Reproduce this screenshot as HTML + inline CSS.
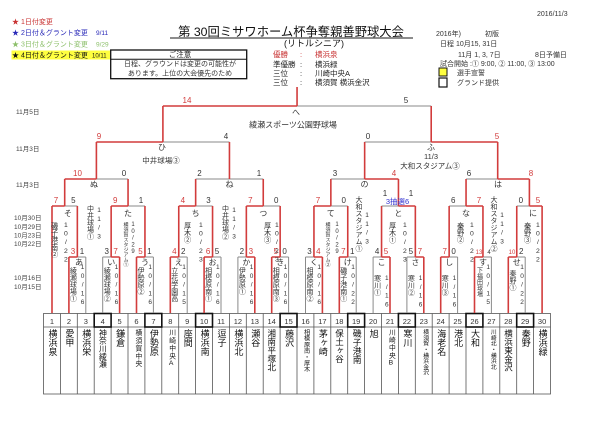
<!DOCTYPE html>
<html><head><meta charset="utf-8">
<style>
html,body{margin:0;padding:0;background:#fff}
#w{position:relative;width:600px;height:424px;overflow:hidden;font-family:"Liberation Sans","Noto Sans CJK JP",sans-serif}
svg{position:absolute;left:0;top:0}
svg text{font-family:"Liberation Sans","Noto Sans CJK JP",sans-serif}
.v{position:absolute;writing-mode:vertical-rl;text-orientation:upright;line-height:1;white-space:nowrap;color:#222}
.t{font-size:9px;top:329px;color:#111}
.s{font-size:6.2px;top:329px;color:#111}
.vn{font-size:7px;top:267px;color:#333}
.dt{font-size:6.5px;top:264px;letter-spacing:1.8px;color:#333}
.vn2{font-size:7.2px;top:222px;color:#333}
.dt2{font-size:6.8px;top:222px;letter-spacing:1.6px;color:#333}
</style></head><body><div id="w">
<svg width="600" height="424" viewBox="0 0 600 424">
<text x="537" y="16" font-size="7" fill="#333">2016/11/3</text>
<text x="12" y="24" font-size="7" fill="#c83232">★ 1日付変更</text>
<text x="12" y="35" font-size="7" fill="#2a2ab8">★ 2日付＆グラント変更</text><text x="96" y="35" font-size="6.5" fill="#2a2ab8">9/11</text>
<text x="12" y="46.5" font-size="7" fill="#8cbf6a">★ 3日付＆グラント変更</text><text x="96" y="46.5" font-size="6.5" fill="#8cbf6a">9/29</text>
<rect x="11.5" y="50.5" width="98.5" height="9" fill="#ffff40"/>
<text x="12" y="57.5" font-size="7" fill="#111">★ 4日付＆グラント変更</text><text x="92" y="57.5" font-size="6" fill="#111">10/11</text>
<text x="291" y="36" font-size="12.3" fill="#111" text-anchor="middle">第 30回ミサワホーム杯争奪親善野球大会</text>
<line x1="170" y1="38" x2="413" y2="38" stroke="#666" stroke-width="1.5"/>
<text x="314" y="46.5" font-size="9" fill="#111" text-anchor="middle">(リトルシニア)</text>
<rect x="110.7" y="50" width="136" height="28.7" fill="none" stroke="#111" stroke-width="1.3"/>
<line x1="110.7" y1="59.3" x2="246.7" y2="59.3" stroke="#111" stroke-width="1"/>
<text x="180" y="57" font-size="7.5" fill="#222" text-anchor="middle">ご注意</text>
<text x="180" y="66" font-size="7" fill="#333" text-anchor="middle">日程、グラウンドは変更の可能性が</text>
<text x="180" y="75.5" font-size="7" fill="#333" text-anchor="middle">あります。上位の大会優先のため</text>
<g font-size="7.5">
<text x="273" y="57" fill="#c83232">優勝</text><text x="300" y="57" fill="#c83232">:</text><text x="315" y="57" fill="#c83232">横浜泉</text>
<text x="273" y="67" fill="#222">準優勝</text><text x="300" y="67" fill="#222">:</text><text x="315" y="67" fill="#222">横浜緑</text>
<text x="273" y="76" fill="#222">三位</text><text x="300" y="76" fill="#222">:</text><text x="315" y="76" fill="#222">川崎中央A</text>
<text x="273" y="85" fill="#222">三位</text><text x="300" y="85" fill="#222">:</text><text x="315" y="85" fill="#222">横須賀 横浜金沢</text>
</g>
<g font-size="7" fill="#333">
<text x="436" y="36">2016年)</text><text x="485" y="36">初版</text>
<text x="440" y="46">日程 10月15, 31日</text>
<text x="458" y="57">11月 1, 3, 7日</text><text x="535" y="57">8日予備日</text>
<text x="440" y="66">試合開始 :① 9:00, ② 11:00, ③ 13:00</text>
<text x="457" y="75">選手宣誓</text>
<text x="457" y="85">グランド提供</text>
</g>
<rect x="439" y="68" width="8" height="8" fill="#ffff40" stroke="#111" stroke-width="1"/>
<rect x="439" y="78" width="8" height="9" fill="#fff" stroke="#111" stroke-width="1.2"/>
<g font-size="6.5" fill="#444">
<text x="16" y="114">11月5日</text>
<text x="16" y="151">11月3日</text>
<text x="16" y="187">11月3日</text>
<text x="14" y="220">10月30日</text>
<text x="14" y="229">10月29日</text>
<text x="14" y="237.5">10月23日</text>
<text x="14" y="246">10月22日</text>
<text x="14" y="280">10月16日</text>
<text x="14" y="289">10月15日</text>
</g>
<g stroke="#555" stroke-width="0.8" fill="none">
<rect x="43.5" y="313.5" width="507" height="80.5"/>
<line x1="43.5" y1="327" x2="550.5" y2="327"/>
<path d="M60.4 313.5V394M77.3 313.5V394M94.2 313.5V394M111.1 313.5V394M128 313.5V394M144.9 313.5V394M161.8 313.5V394M178.7 313.5V394M195.6 313.5V394M212.5 313.5V394M229.4 313.5V394M246.3 313.5V394M263.2 313.5V394M280.1 313.5V394M297 313.5V394M313.9 313.5V394M330.8 313.5V394M347.7 313.5V394M364.6 313.5V394M381.5 313.5V394M398.4 313.5V394M415.3 313.5V394M432.2 313.5V394M449.1 313.5V394M466 313.5V394M482.9 313.5V394M499.8 313.5V394M516.7 313.5V394M533.6 313.5V394"/>
</g>
<g stroke="#111" stroke-width="1.6" fill="none">
<rect x="94.2" y="313.5" width="16.9" height="13.5"/><rect x="144.9" y="313.5" width="16.9" height="13.5"/>
<rect x="195.6" y="313.5" width="16.9" height="13.5"/><rect x="280.1" y="313.5" width="16.9" height="13.5"/>
<rect x="347.7" y="313.5" width="16.9" height="13.5"/><rect x="398.4" y="313.5" width="16.9" height="13.5"/>
<rect x="466" y="313.5" width="16.9" height="13.5"/><rect x="516.7" y="313.5" width="16.9" height="13.5"/>
</g>
<g font-size="7.5" fill="#333" text-anchor="middle">
<text x="52" y="324">1</text><text x="68.9" y="324">2</text><text x="85.8" y="324">3</text><text x="102.7" y="324">4</text><text x="119.6" y="324">5</text><text x="136.5" y="324">6</text><text x="153.4" y="324">7</text><text x="170.3" y="324">8</text><text x="187.2" y="324">9</text><text x="204.1" y="324">10</text><text x="221" y="324">11</text><text x="237.9" y="324">12</text><text x="254.8" y="324">13</text><text x="271.7" y="324">14</text><text x="288.6" y="324">15</text><text x="305.5" y="324">16</text><text x="322.4" y="324">17</text><text x="339.3" y="324">18</text><text x="356.2" y="324">19</text><text x="373.1" y="324">20</text><text x="390" y="324">21</text><text x="406.9" y="324">22</text><text x="423.8" y="324">23</text><text x="440.7" y="324">24</text><text x="457.6" y="324">25</text><text x="474.5" y="324">26</text><text x="491.4" y="324">27</text><text x="508.3" y="324">28</text><text x="525.2" y="324">29</text><text x="542.1" y="324">30</text>
</g>
<g stroke="#8a8a8a" stroke-width="1" fill="none">
<path d="M85.8 313V257M102.7 313V257M153.4 313V257M187.2 313V257M221 313V257M237.9 313V257M288.6 313V257M305.5 313V257M356.2 313V257M373.1 313V257M406.9 313V257M457.6 313V257M491.4 313V257M525.2 313V257"/>
<path d="M77.35 257H85.8M102.7 257H111.15M144.95 257H153.4M178.75 257H187.2M212.55 257H221M237.9 257H246.35M280.15 257H288.6M305.5 257H313.95M347.75 257H356.2M373.1 257H381.55M406.9 257H415.35M449.15 257H457.6M482.95 257H491.4M516.75 257H525.2"/>
<path d="M64.7 206H77.35M128.05 206H144.95M195.65 206H212.55M263.25 206H280.15M330.85 206H347.75M381.55 206H398.45M449.15 206H466.05M516.75 206H529.4"/>
<path d="M96.4 179H128.05M195.65 179H263.25M330.85 179H364.65M466.05 179H497.7"/>
<path d="M162.9 142H229.45M364.65 142H431.2"/>
<path d="M297.05 106H431.2"/>
</g>
<g stroke="#d23c3c" stroke-width="1.6" fill="none">
<path d="M52 313V206M542.1 313V206"/>
<path d="M68.9 313V257M119.6 313V257M136.5 313V257M170.3 313V257M204.1 313V257M254.8 313V257M271.7 313V257M322.4 313V257M339.3 313V257M390 313V257M423.8 313V257M440.7 313V257M474.5 313V257M508.3 313V257"/>
<path d="M68.9 257H77.35M111.15 257H119.6M136.5 257H144.95M170.3 257H178.75M204.1 257H212.55M246.35 257H254.8M271.7 257H280.15M313.95 257H322.4M339.3 257H347.75M381.55 257H390M415.35 257H423.8M440.7 257H449.15M474.5 257H482.95M508.3 257H516.75"/>
<path d="M77.35 257V206M111.15 257V206M144.95 257V206M178.75 257V206M212.55 257V206M246.35 257V206M280.15 257V206M313.95 257V206M347.75 257V206M381.55 257V206M415.35 257V206M449.15 257V206M482.95 257V206M516.75 257V206"/>
<path d="M52 206H64.7M111.15 206H128.05M178.75 206H195.65M246.35 206H263.25M313.95 206H330.85M398.45 206H415.35M466.05 206H482.95M529.4 206H542.1"/>
<path d="M64.7 206V179M128.05 206V179M195.65 206V179M263.25 206V179M330.85 206V179M398.45 206V179M466.05 206V179M529.4 206V179"/>
<path d="M64.7 179H96.4M364.65 179H398.45M497.7 179H529.4"/>
<path d="M96.4 179V142M229.45 179V142M364.65 179V142M497.7 179V142"/>
<path d="M96.4 142H162.9M431.2 142H497.7"/>
<path d="M162.9 142V106M431.2 142V106"/>
<path d="M162.9 106H297.05M297.05 106V87"/>
</g>
<g font-size="8" text-anchor="middle" fill="#333">
<text x="73" y="254" fill="#d23c3c">3</text><text x="82" y="254">1</text>
<text x="106.7" y="254">3</text><text x="115.6" y="254" fill="#d23c3c">7</text>
<text x="140.5" y="254" fill="#d23c3c">5</text><text x="149.4" y="254">1</text>
<text x="174.3" y="254" fill="#d23c3c">4</text><text x="183.2" y="254">2</text>
<text x="208.1" y="254" fill="#d23c3c">6</text><text x="217" y="254">5</text>
<text x="241.9" y="254">2</text><text x="250.8" y="254" fill="#d23c3c">3</text>
<text x="275.7" y="254" fill="#d23c3c">5</text><text x="284.6" y="254">0</text>
<text x="309.5" y="254">3</text><text x="318.4" y="254" fill="#d23c3c">4</text>
<text x="343.3" y="254" fill="#d23c3c">7</text><text x="352.2" y="254">1</text>
<text x="377.1" y="254">4</text><text x="386" y="254" fill="#d23c3c">5</text>
<text x="410.9" y="254">5</text><text x="419.8" y="254" fill="#d23c3c">7</text>
<text x="444.7" y="254" fill="#d23c3c">7</text><text x="453.6" y="254">0</text>
<text x="479" y="254" fill="#d23c3c" font-size="6">13</text><text x="489" y="254" font-size="6">4</text>
<text x="512" y="254" fill="#d23c3c" font-size="6">10</text><text x="521.2" y="254">2</text>
<text x="56" y="203" fill="#d23c3c">7</text><text x="73.3" y="203">5</text>
<text x="115.2" y="203" fill="#d23c3c">9</text><text x="141" y="203">1</text>
<text x="182.8" y="203" fill="#d23c3c">4</text><text x="208.5" y="203">3</text>
<text x="250.4" y="203" fill="#d23c3c">7</text><text x="276.2" y="203">0</text>
<text x="318" y="203" fill="#d23c3c">7</text><text x="343.7" y="203">0</text>
<text x="385" y="196">1</text><text x="411" y="196">1</text>
<text x="397.5" y="204" fill="#3030d0" font-size="7.5">3抽選6</text>
<text x="453.2" y="203">6</text><text x="479" y="203" fill="#d23c3c">7</text>
<text x="520.8" y="203">0</text><text x="538" y="203" fill="#d23c3c">5</text>
<text x="77.5" y="176" fill="#d23c3c">10</text><text x="124" y="176">0</text>
<text x="199.5" y="176">2</text><text x="259" y="176">1</text>
<text x="335" y="176">3</text><text x="394" y="176" fill="#d23c3c">4</text>
<text x="469" y="176">6</text><text x="531" y="176" fill="#d23c3c">8</text>
<text x="99" y="139" fill="#d23c3c">9</text><text x="226" y="139">4</text>
<text x="368" y="139">0</text><text x="497" y="139" fill="#d23c3c">5</text>
<text x="187" y="103" fill="#d23c3c">14</text><text x="406" y="103">5</text>
</g>
<g font-size="8" text-anchor="middle" fill="#333">
<text x="296" y="115">へ</text>
<text x="293" y="127.5" font-size="8">綾瀬スポーツ公園野球場</text>
<text x="162" y="150">ひ</text>
<text x="161" y="163" font-size="7.5">中井球場③</text>
<text x="431" y="150">ふ</text>
<text x="431" y="159" font-size="7.5">11/3</text>
<text x="430" y="168.5" font-size="7.5">大和スタジアム③</text>
<text x="94" y="187">ぬ</text><text x="229.5" y="187">ね</text><text x="364.5" y="187">の</text><text x="498" y="187">は</text>
<text x="68" y="216">そ</text><text x="128" y="216">た</text><text x="195.6" y="216">ち</text><text x="263.2" y="216">つ</text>
<text x="330.8" y="216">て</text><text x="398.4" y="216">と</text><text x="466" y="216">な</text><text x="533" y="216">に</text>
<text x="79" y="265">あ</text><text x="111.2" y="265">い</text><text x="145" y="265">う</text><text x="178.8" y="265">え</text>
<text x="212.5" y="265">お</text><text x="246.4" y="265">か</text><text x="280.2" y="265">き</text><text x="314" y="265">く</text>
<text x="347.8" y="265">け</text><text x="381.5" y="265">こ</text><text x="415.4" y="265">さ</text><text x="449.2" y="265">し</text>
<text x="483" y="265">す</text><text x="516.8" y="265">せ</text>
</g>
</svg>
<div class="v t" style="left:47.5px">横浜泉</div>
<div class="v t" style="left:64.4px">愛甲</div>
<div class="v t" style="left:81.3px">横浜栄</div>
<div class="v t" style="left:98.6px;font-size:7.8px">神奈川綾瀬</div>
<div class="v t" style="left:115.1px">鎌倉</div>
<div class="v s" style="left:133.1px;font-size:6.8px;letter-spacing:1px">横須賀中央</div>
<div class="v t" style="left:148.9px">伊勢原</div>
<div class="v s" style="left:166.9px;font-size:6.8px;letter-spacing:1px">川崎中央A</div>
<div class="v t" style="left:182.7px">座間</div>
<div class="v t" style="left:199.6px">横浜南</div>
<div class="v t" style="left:216.5px">逗子</div>
<div class="v t" style="left:233.4px">横浜北</div>
<div class="v t" style="left:250.3px">瀬谷</div>
<div class="v t" style="left:267.3px;font-size:8.5px">湘南平塚北</div>
<div class="v t" style="left:284.1px">藤沢</div>
<div class="v s" style="left:302.4px">相模原南・厚木</div>
<div class="v t" style="left:317.9px">茅ヶ崎</div>
<div class="v t" style="left:335px;font-size:8.5px">保土ヶ谷</div>
<div class="v t" style="left:351.8px;font-size:8.8px">磯子港南</div>
<div class="v t" style="left:368.6px">旭</div>
<div class="v s" style="left:386.6px;font-size:6.8px;letter-spacing:0.8px">川崎中央B</div>
<div class="v t" style="left:402.4px">寒川</div>
<div class="v s" style="left:420.9px;font-size:5.8px">横須賀・横浜金沢</div>
<div class="v t" style="left:436.2px">海老名</div>
<div class="v t" style="left:453.1px">港北</div>
<div class="v t" style="left:470px">大和</div>
<div class="v s" style="left:488.5px;font-size:5.8px">川崎北・横浜北</div>
<div class="v t" style="left:504px;font-size:8.5px">横浜東金沢</div>
<div class="v t" style="left:520.7px">秦野</div>
<div class="v t" style="left:537.6px">横浜緑</div>
<div class="v vn" style="left:69.4px">綾瀬球場①</div><div class="v dt" style="left:78.6px">10/16</div>
<div class="v vn" style="left:103.2px">綾瀬球場②</div><div class="v dt" style="left:112.4px">10/16</div>
<div class="v vn" style="left:137px">伊勢原②</div><div class="v dt" style="left:146.2px">10/16</div>
<div class="v vn" style="left:170.8px">立花学園高</div><div class="v dt" style="left:180px">10/15</div>
<div class="v vn" style="left:204.6px">相模原南①</div><div class="v dt" style="left:213.8px">10/16</div>
<div class="v vn" style="left:238.4px">伊勢原①</div><div class="v dt" style="left:247.6px">10/16</div>
<div class="v vn" style="left:272.2px">相模原南③</div><div class="v dt" style="left:281.4px">10/16</div>
<div class="v vn" style="left:306px">相模原南②</div><div class="v dt" style="left:315.2px">10/16</div>
<div class="v vn" style="left:339.8px">磯子港南①</div><div class="v dt" style="left:349px">10/22</div>
<div class="v vn" style="left:373.6px;top:275px">寒川①</div><div class="v dt" style="left:382.8px;top:275px">1/16</div>
<div class="v vn" style="left:407.4px;top:275px">寒川②</div><div class="v dt" style="left:416.6px;top:275px">1/16</div>
<div class="v vn" style="left:441.2px;top:275px">寒川③</div><div class="v dt" style="left:450.4px;top:275px">1/16</div>
<div class="v vn" style="left:475.5px;font-size:6px">下福田球場</div><div class="v dt" style="left:484.2px">10/15</div>
<div class="v vn" style="left:509px;top:270px">秦野①</div><div class="v dt" style="left:518px">10/22</div>
<div class="v vn2" style="left:51.4px">磯子港南②</div><div class="v dt2" style="left:61.6px">10/22</div>
<div class="v vn2" style="left:122.5px;font-size:5px">横須賀スタジアム①</div><div class="v dt2" style="left:130px;font-size:6px;letter-spacing:0.8px">10/29</div>
<div class="v vn2" style="left:184.4px">厚木②</div><div class="v dt2" style="left:196.6px">10/23</div>
<div class="v vn2" style="left:264.4px">厚木③</div><div class="v dt2" style="left:272.6px">10/23</div>
<div class="v vn2" style="left:324.5px;font-size:5px">横須賀スタジアム②</div><div class="v dt2" style="left:334px;font-size:6px;letter-spacing:0.8px">10/29</div>
<div class="v vn2" style="left:389.4px">厚木①</div><div class="v dt2" style="left:400.6px">10/23</div>
<div class="v vn2" style="left:457.4px">秦野②</div><div class="v dt2" style="left:467.6px">10/22</div>
<div class="v vn2" style="left:524.4px">秦野③</div><div class="v dt2" style="left:533.6px">10/22</div>
<div class="v" style="left:86.5px;top:205px;font-size:7px;color:#333">中井球場①</div>
<div class="v" style="left:95px;top:207px;font-size:6.5px;letter-spacing:1.8px;color:#333">11/3</div>
<div class="v" style="left:221.5px;top:205px;font-size:7px;color:#333">中井球場②</div>
<div class="v" style="left:230px;top:207px;font-size:6.5px;letter-spacing:1.8px;color:#333">11/3</div>
<div class="v" style="left:355px;top:196px;font-size:7px;color:#333">大和スタジアム①</div>
<div class="v" style="left:363px;top:212px;font-size:6.5px;letter-spacing:1.8px;color:#333">11/3</div>
<div class="v" style="left:490px;top:196px;font-size:7px;color:#333">大和スタジアム②</div>
<div class="v" style="left:498px;top:212px;font-size:6.5px;letter-spacing:1.8px;color:#333">11/3</div>
</div></body></html>
